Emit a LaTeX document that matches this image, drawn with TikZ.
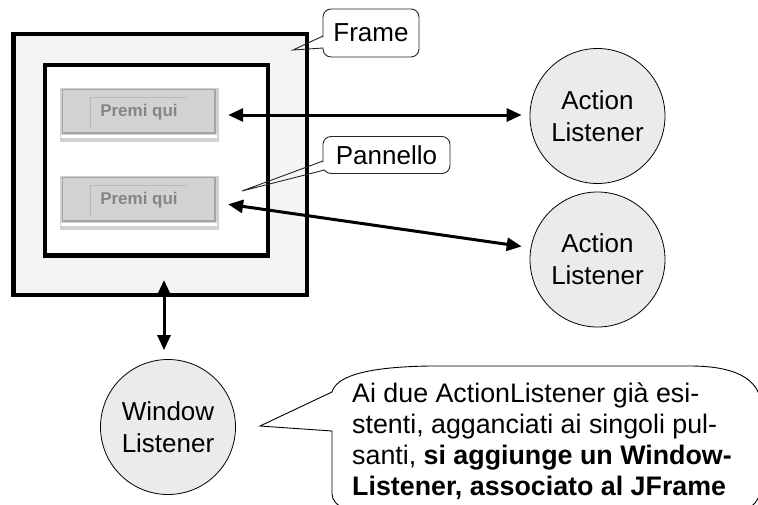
\documentclass[tikz,border=0pt]{standalone}
\usepackage{fontspec}
\setmainfont{Liberation Sans}
\usetikzlibrary{arrows.meta,calc}
\definecolor{framegray}{HTML}{F4F4F4}
\definecolor{circgray}{HTML}{EBEBEB}
\definecolor{btngray}{HTML}{D2D2D2}
\definecolor{btnedge}{HTML}{A4A4A4}
\definecolor{btnline}{HTML}{B8B8B8}
\definecolor{btntext}{HTML}{858585}
\newcommand\btndetail[1]{%
  \begin{scope}[shift={(0,#1)}]
    \draw[btnedge, line width=1.3pt] (62.5,1.5) rectangle (215,45);
    \fill[white] (61,46.5) rectangle (217,49.5);
    \draw[btnline, line width=0.8pt] (90,40) -- (90,9) -- (187,9);
  \end{scope}}
\begin{document}
\begin{tikzpicture}[x=1pt,y=-1pt,
  box/.style={draw=black, line width=4.3pt, rectangle, inner sep=0},
  listener/.style={circle, draw=black, line width=0.8pt, fill=circgray, minimum size=135pt, inner sep=0, align=center, font=\fontsize{26}{32}\selectfont},
  callout/.style={draw=black!85, line width=0.9pt, fill=white, rounded corners=8pt, inner sep=0, font=\fontsize{26}{32}\selectfont},
  tail/.style={draw=black!85, line width=0.9pt},
  conn/.style={line width=3pt, {Triangle[length=15pt,width=13pt]}-{Triangle[length=15pt,width=13pt]}},
  btn/.style={fill=btngray, minimum width=159pt, minimum height=54pt, inner sep=0},
  btnlabel/.style={text=btntext, font=\bfseries\fontsize{17}{17}\selectfont, inner sep=0}
]
\useasboundingbox (0,0) rectangle (758,504);
\clip (0,0) rectangle (758,504);

% frame and panel
\node[box, fill=framegray, minimum width=293.5pt, minimum height=261pt] (frame) at (160.25,164.5) {};
\node[box, fill=white, minimum width=223pt, minimum height=190.5pt] (panel) at (156.5,160.25) {};

% buttons
\node[btn] (b1) at (139.5,115) {};
\btndetail{88}
\node[btnlabel] (t1) at (139,112) {Premi qui};
\node[btn] (b2) at (139.5,203) {};
\btndetail{176}
\node[btnlabel] (t2) at (139,200) {Premi qui};

% listeners
\node[listener] (al1) at (597.5,116) {Action\\Listener};
\node[listener] (al2) at (597.5,259.5) {Action\\Listener};
\node[listener] (wl) at (168,427) {Window\\Listener};

% connectors
\draw[conn, shorten <=9pt, shorten >=8pt] (b1.east) -- (b1.east -| al1.west);
\draw[conn, shorten <=9pt, shorten >=9pt] (b2.east) -- (al2.170);
\coordinate (wtop) at (164,280);
\draw[conn, shorten >=9pt] (wtop) -- (wtop |- wl.north);

% Frame callout
\node[callout, minimum width=96pt, minimum height=48pt] (fcall) at (371,33) {Frame};
\coordinate (ftip) at (293,50);
\fill[white] (311,42.2) -- (324.5,36.8) -- (324.5,47.5) -- (311,48.3) -- cycle;
\draw[tail] (323,36) -- (ftip) -- (323,48);

% Pannello callout
\node[callout, minimum width=127pt, minimum height=37pt] (pcall) at (386.5,155) {Pannello};
\coordinate (ptip) at (242,191);
\fill[white] (317,164) -- (325.5,161.6) -- (326,169.4) -- (317,171) -- cycle;
\draw[tail] (323,161) -- (ptip) -- (324.5,170);

% speech bubble
\coordinate (btip) at (260,426);
\filldraw[fill=white, draw=black, line width=0.9pt]
  (btip) -- (332,392) .. controls (336,378) and (360,367) .. (430,366)
  -- (690,366) .. controls (730,366) and (752,376) .. (759,394)
  -- (759,493) .. controls (759,501) and (753,507) .. (745,508)
  -- (345,508) .. controls (337,506) and (332,500) .. (332,494)
  -- (332,431) -- cycle;
\node[anchor=north west, inner sep=0, align=left, font=\fontsize{26.8}{31}\selectfont] (note) at (352,382.5)
  {Ai due ActionListener già esi-\\stenti, agganciati ai singoli pul-\\santi, \textbf{si aggiunge un Window-}\\\textbf{Listener, associato al JFrame}};
\end{tikzpicture}
\end{document}
